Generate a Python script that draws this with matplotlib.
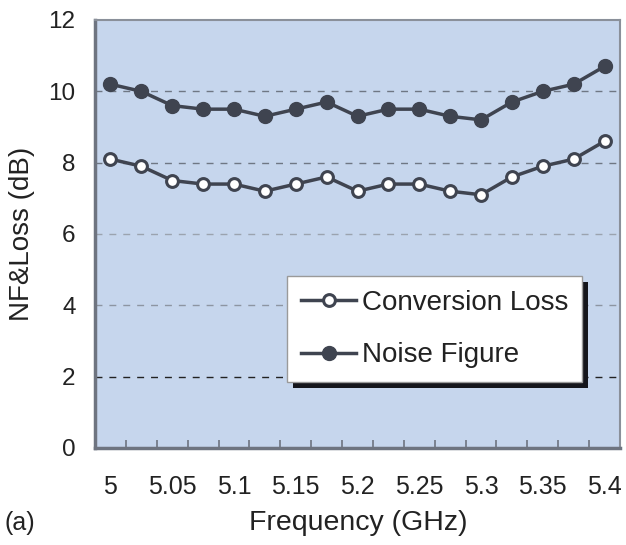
import matplotlib
matplotlib.use("Agg")
import matplotlib.pyplot as plt
import matplotlib.patheffects as pe

plt.rcParams['font.family'] = ['Liberation Sans', 'DejaVu Sans']

# frequencies (GHz), one point every 0.025 GHz
freq = [5.0, 5.025, 5.05, 5.075, 5.1, 5.125, 5.15, 5.175, 5.2,
        5.225, 5.25, 5.275, 5.3, 5.325, 5.35, 5.375, 5.4]
conv_loss = [8.1, 7.9, 7.5, 7.4, 7.4, 7.2, 7.4, 7.6, 7.2,
             7.4, 7.4, 7.2, 7.1, 7.6, 7.9, 8.1, 8.6]
noise_fig = [10.2, 10.0, 9.6, 9.5, 9.5, 9.3, 9.5, 9.7, 9.3,
             9.5, 9.5, 9.3, 9.2, 9.7, 10.0, 10.2, 10.7]
xtick_labels = ["5", "5.05", "5.1", "5.15", "5.2", "5.25", "5.3", "5.35", "5.4"]
yticks = [0, 2, 4, 6, 8, 10, 12]

line_col = '#3f4450'
bg = '#c6d6ed'

fig = plt.figure(figsize=(6.26, 5.45), dpi=100)
ax = fig.add_axes([95/626, 1 - 448/545, 525/626, 428/545])
ax.set_facecolor(bg)

pos = list(range(len(freq)))  # category axis, like the original spreadsheet chart

# grid lines
grid_cols = {2: '#222222', 4: '#8d95a2', 6: '#9ba3af', 8: '#6f7784', 10: '#6f7784'}
for y in yticks[1:-1]:
    ax.axhline(y, color=grid_cols[y], lw=1.0, ls=(0, (5, 5)), zorder=1)

ax.plot(pos, conv_loss, color=line_col, lw=2.5, marker='o', ms=8.5,
        mfc='white', mec=line_col, mew=2.2, label='Conversion Loss', zorder=3)
ax.plot(pos, noise_fig, color=line_col, lw=2.5, marker='o', ms=10,
        mfc=line_col, mec=line_col, label='Noise Figure', zorder=3)

ax.set_xlim(-0.5, len(freq) - 0.5)
ax.set_ylim(0, 12)
ax.set_yticks(yticks)
ax.tick_params(axis='y', length=0, pad=14, labelsize=17.5, colors='#222222')

ax.set_xticks([p + 0.5 for p in pos[:-1]])
ax.set_xticklabels([])
ax.tick_params(axis='x', direction='in', length=6, width=1.2, color='#6e7480')
for p, lab in zip(pos[::2], xtick_labels):
    ax.text(p, -1.1, lab, ha='center', va='center', fontsize=18, color='#222222')

for side in ['left', 'bottom']:
    ax.spines[side].set_color('#6e7480')
    ax.spines[side].set_linewidth(2.5)
for side in ['top', 'right']:
    ax.spines[side].set_color('#8a909a')
    ax.spines[side].set_linewidth(1.5)

ax.set_ylabel('NF&Loss (dB)', fontsize=20, labelpad=10, color='#222222')
fig.text(358/626, 1 - 523/545, 'Frequency (GHz)', ha='center', va='center',
         fontsize=20.5, color='#222222')
fig.text(5/626, 1 - 523/545, '(a)', ha='left', va='center', fontsize=18, color='#222222')

leg = ax.legend(loc='upper left', bbox_to_anchor=((287 - 95) / 525, (448 - 276) / 428),
                fontsize=20, frameon=True, fancybox=False, shadow=False,
                handlelength=2.0, handletextpad=0.2, borderpad=0.5,
                labelspacing=0.95, borderaxespad=0)
frame = leg.get_frame()
frame.set_facecolor('white')
frame.set_edgecolor('#9a9a9a')
frame.set_linewidth(1.0)
frame.set_alpha(1)
frame.set_path_effects([pe.SimplePatchShadow(offset=(4, -4), shadow_rgbFace='#15161c', alpha=1),
                        pe.Normal()])
for t in leg.get_texts():
    t.set_color('#222222')

fig.savefig('out.png', dpi=100)
